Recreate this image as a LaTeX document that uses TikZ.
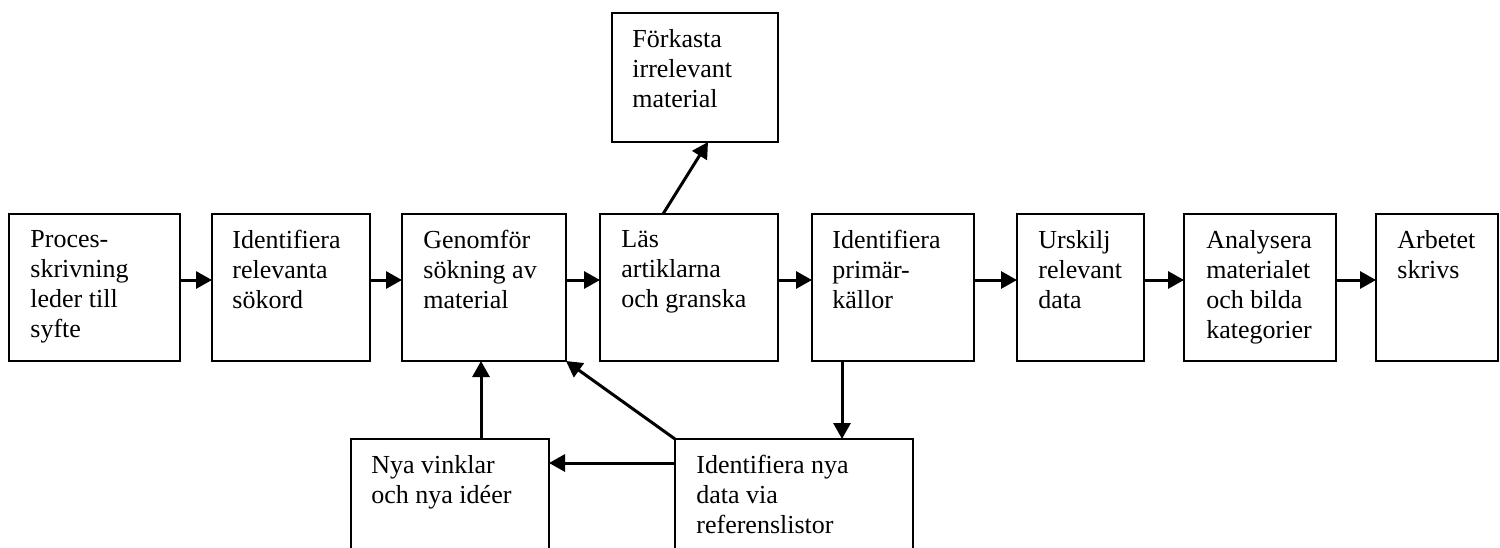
\documentclass[tikz,border=0pt]{standalone}
\usepackage{fontspec}
\setmainfont{Liberation Serif}
\usetikzlibrary{arrows.meta,calc,fit}
\begin{document}
\begin{tikzpicture}[x=0.5pt,y=-0.5pt,
  box/.style={draw, line width=1pt, inner sep=0pt, outer sep=0pt},
  txt/.style={anchor=north west, inner sep=0pt, align=left, font=\fontsize{13}{15}\selectfont,
    execute at begin node={\rule{0pt}{10pt}}},
  arr/.style={line width=1.5pt, -{Triangle[length=8pt,width=8.5pt]}}]
\clip (0,0) rectangle (1500,547);
\fill[white] (0,0) rectangle (1500,547);
% main row
\node[box, fit={(9,214) (180,361)}] (b1) {};
\node[box, fit={(212,214) (370,361)}] (b2) {};
\node[box, fit={(402,214) (566,361)}] (b3) {};
\node[box, fit={(600,214) (778,361)}] (b4) {};
\node[box, fit={(812,214) (974,361)}] (b5) {};
\node[box, fit={(1017,214) (1144,361)}] (b6) {};
\node[box, fit={(1184,214) (1336,361)}] (b7) {};
\node[box, fit={(1376,214) (1498,361)}] (b8) {};
% others
\node[box, fit={(612,13) (778,142)}] (fk) {};
\node[box, fit={(351,439) (549,580)}] (nv) {};
\node[box, fit={(675,439) (913,580)}] (in) {};
% texts (first baseline 36px below the box top)
\node[txt] (t1) at ($(b1.north west)+(21,16)$) {Proces-\\skrivning\\leder till\\syfte};
\node[txt] (t2) at ($(b2.north west)+(20,16)$) {Identifiera\\relevanta\\sökord};
\node[txt] (t3) at ($(b3.north west)+(21,16)$) {Genomför\\sökning av\\material};
\node[txt] (t4) at ($(b4.north west)+(21,16)$) {Läs\\artiklarna\\och granska};
\node[txt] (t5) at ($(b5.north west)+(20,16)$) {Identifiera\\primär-\\källor};
\node[txt] (t6) at ($(b6.north west)+(21,16)$) {Urskilj\\relevant\\data};
\node[txt] (t7) at ($(b7.north west)+(22,16)$) {Analysera\\materialet\\och bilda\\kategorier};
\node[txt] (t8) at ($(b8.north west)+(21,16)$) {Arbetet\\skrivs};
\node[txt] (tf) at ($(fk.north west)+(20,16)$) {Förkasta\\irrelevant\\material};
\node[txt] (tn) at ($(nv.north west)+(20,16)$) {Nya vinklar\\och nya idéer};
\node[txt] (ti) at ($(in.north west)+(21,16)$) {Identifiera nya\\data via\\referenslistor};
% connectors
\coordinate (row) at (0,280);
\draw[arr] (b1.east |- row) -- (b2.west |- row);
\draw[arr] (b2.east |- row) -- (b3.west |- row);
\draw[arr] (b3.east |- row) -- (b4.west |- row);
\draw[arr] (b4.east |- row) -- (b5.west |- row);
\draw[arr] (b5.east |- row) -- (b6.west |- row);
\draw[arr] (b6.east |- row) -- (b7.west |- row);
\draw[arr] (b7.east |- row) -- (b8.west |- row);
\draw[arr] ($(b4.north west)+(63,0)$) -- ($(fk.south west)+(96,0)$);
\coordinate (vx) at (481,0);
\draw[arr] (nv.north -| vx) -- (b3.south -| vx);
\coordinate (hy) at (0,463);
\draw[arr] (in.west |- hy) -- (nv.east |- hy);
\draw[arr] (in.north west) -- (b3.south east);
\coordinate (dx) at (842,0);
\draw[arr] (b5.south -| dx) -- (in.north -| dx);
\end{tikzpicture}
\end{document}
